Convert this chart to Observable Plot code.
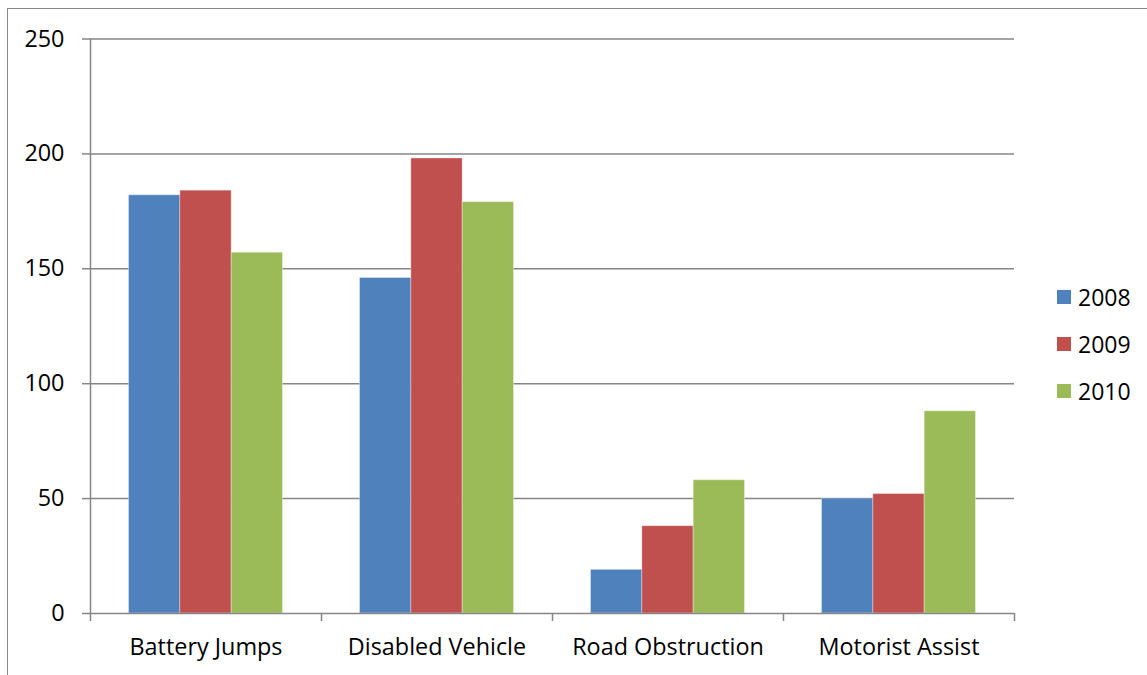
<!DOCTYPE html>
<html>
<head>
<meta charset="utf-8">
<script src="https://cdn.jsdelivr.net/npm/d3@7"></script>
<script src="https://cdn.jsdelivr.net/npm/@observablehq/plot@0.6"></script>
<style>
  html, body { margin: 0; padding: 0; background: #fff; }
  body { width: 1147px; height: 675px; overflow: hidden; position: relative; font-family: "Open Sans", sans-serif; }
  #frame { position: absolute; left: 7px; top: 8px; width: 1200px; height: 700px; border-left: 1.3px solid #888; border-top: 1.3px solid #888; box-sizing: border-box; }
  #chart { position: absolute; left: 0; top: 0; }
  #legend { position: absolute; left: 1057px; top: 273px; font-size: 23px; color: #000; }
  #legend .row { display: flex; align-items: center; height: 47px; }
  #legend .sw { width: 14px; height: 14px; margin-right: 7px; }
</style>
</head>
<body>
<div id="frame"></div>
<div id="chart"></div>
<div id="legend"></div>
<script>
const categories = ["Battery Jumps", "Disabled Vehicle", "Road Obstruction", "Motorist Assist"];
const years = ["2008", "2009", "2010"];
const values2008 = [182, 146, 19, 50];
const values2009 = [184, 198, 38, 52];
const values2010 = [157, 179, 58, 88];
const yTicks = [0, 50, 100, 150, 200, 250];
const colors = ["#4F81BD", "#C0504D", "#9BBB59"];

const series = [values2008, values2009, values2010];
const rows = [];
categories.forEach((c, ci) => {
  years.forEach((y, yi) => rows.push({category: c, ci, year: y, yi, value: series[yi][ci]}));
});

// within each category slot (width 1), bars take 2/3, centered
const pad = 1 / 6, bw = 2 / 9;
const FONT = "'Open Sans', sans-serif";
const FS = 23.4;

const plot = Plot.plot({
  width: 1147,
  height: 675,
  marginLeft: 90,
  marginRight: 133,
  marginTop: 38.5,
  marginBottom: 62,
  style: {fontFamily: FONT, fontSize: FS + "px", color: "#000", background: "transparent"},
  x: {domain: [0, categories.length], axis: null},
  y: {domain: [0, 250], axis: null},
  color: {domain: years, range: colors},
  marks: [
    Plot.ruleY(yTicks.filter(d => d > 0), {stroke: "#868686", strokeWidth: 1.5}),
    Plot.rectY(rows, {
      x1: d => d.ci + pad + d.yi * bw,
      x2: d => d.ci + pad + (d.yi + 1) * bw,
      y: "value",
      fill: "year",
      stroke: "#ffffff",
      strokeOpacity: 0.35,
      strokeWidth: 1
    }),
    Plot.ruleY([0], {stroke: "#868686", strokeWidth: 1.5}),
    Plot.ruleX([0], {stroke: "#868686", strokeWidth: 1.5}),
    Plot.axisY({ticks: yTicks, tickSize: 8, tickPadding: 18, stroke: "#868686", strokeWidth: 1.5, fontSize: FS, fill: "#000", label: null}),
    Plot.axisX({ticks: d3.range(categories.length + 1), tickFormat: () => "", tickSize: 8, stroke: "#868686", strokeWidth: 1.5, label: null}),
    Plot.text(categories, {x: (d, i) => i + 0.5, y: 0, dy: 34, text: d => d, fontSize: FS, fill: "#000"})
  ]
});
document.getElementById("chart").appendChild(plot);

const legend = document.getElementById("legend");
years.forEach((y, i) => {
  const row = document.createElement("div");
  row.className = "row";
  const sw = document.createElement("div");
  sw.className = "sw";
  sw.style.background = colors[i];
  const t = document.createElement("span");
  t.textContent = y;
  row.appendChild(sw);
  row.appendChild(t);
  legend.appendChild(row);
});
</script>
</body>
</html>
